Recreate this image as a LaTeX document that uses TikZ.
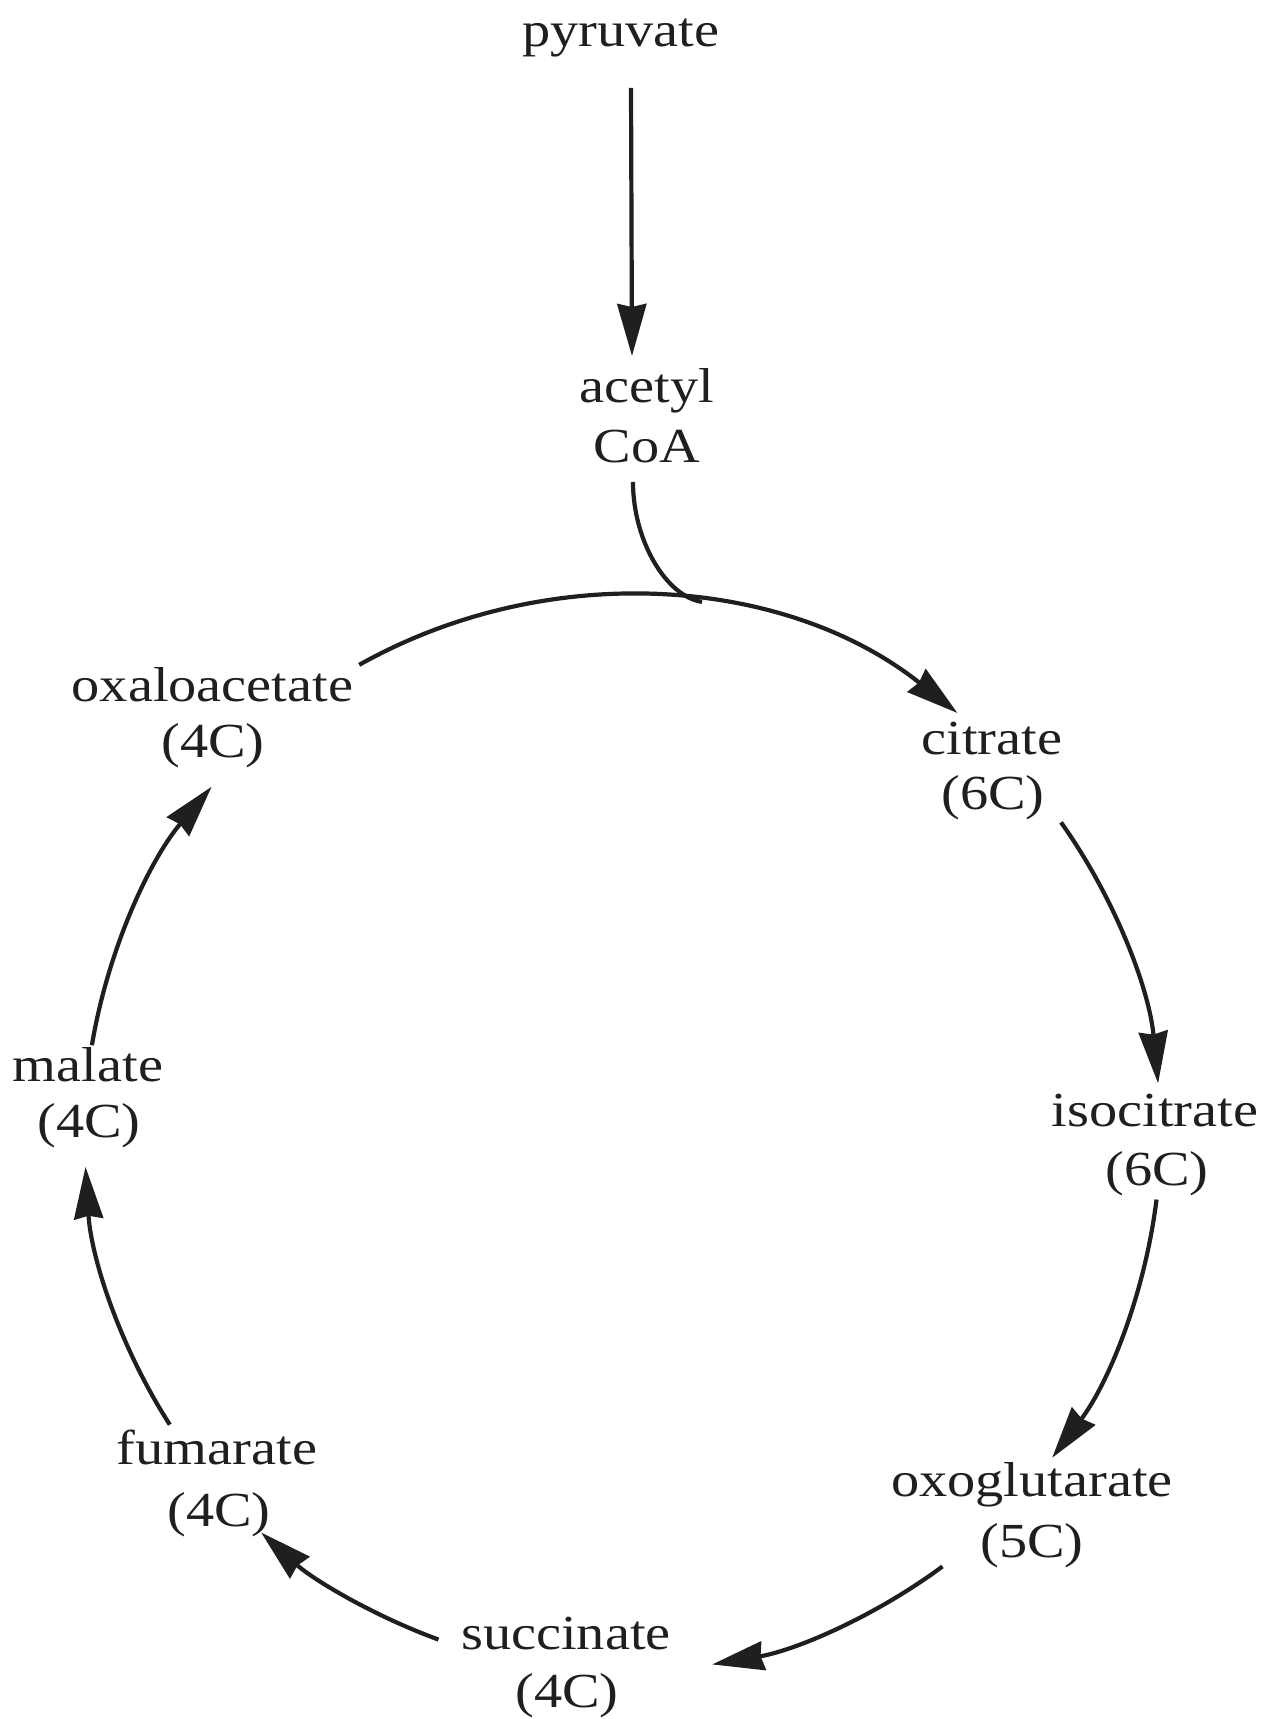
\documentclass[tikz,border=0pt]{standalone}
\usepackage{fontspec}
\setmainfont{Liberation Serif}[FakeStretch=1.15]
\usetikzlibrary{arrows.meta}
\definecolor{ink}{gray}{0.12}
\begin{document}
\begin{tikzpicture}[x=1pt,y=1pt,
  lbl/.style={anchor=base, inner sep=0pt, text=ink, font=\fontsize{49}{58}\selectfont},
  arr/.style={draw=ink, line width=4.2pt, -{Stealth[length=52pt,width=29pt,inset=3pt]}},
  ln/.style={draw=ink, line width=4.2pt}]
\useasboundingbox (0,0) rectangle (1269,1719);
% labels
\node[lbl] (pyr) at (621,1672) {pyruvate};
\node[lbl] (acet) at (647,1316) {acetyl};
\node[lbl] (coa) at (647,1256) {CoA};
\node[lbl] (oxa) at (212.5,1017) {oxaloacetate};
\node[lbl] (oxaC) at (213,961) {(4C)};
\node[lbl] (cit) at (992,964) {citrate};
\node[lbl] (citC) at (993,909) {(6C)};
\node[lbl] (iso) at (1155,592) {isocitrate};
\node[lbl] (isoC) at (1157,533) {(6C)};
\node[lbl] (oxo) at (1032,222) {oxoglutarate};
\node[lbl] (oxoC) at (1032,161) {(5C)};
\node[lbl] (suc) at (566,69) {succinate};
\node[lbl] (sucC) at (567,12) {(4C)};
\node[lbl] (fum) at (217,254) {fumarate};
\node[lbl] (fumC) at (219,192) {(4C)};
\node[lbl] (mal) at (88,637) {malate};
\node[lbl] (malC) at (89,581) {(4C)};
% geometry
\coordinate (O) at (622.5,585);
\coordinate (pyrEnd) at (631,1631);
\coordinate (coaTop) at (632,1363);
\coordinate (coaBot) at (633,1237);
\coordinate (join) at (702,1117.1);
% connectors
\draw[arr] (pyrEnd) -- (coaTop);
\draw[ln] (coaBot) .. controls (633,1178) and (666.4,1122.4) .. (join);
\draw[arr] ([shift={(119.3:538)}]O) arc[start angle=119.3,end angle=51.5,radius=538];
\draw[arr] ([shift={(35.4:538)}]O) arc[start angle=35.4,end angle=5.4,radius=538];
\draw[arr] ([shift={(-7:538)}]O) arc[start angle=-7,end angle=-37,radius=538];
\draw[arr] ([shift={(-53.5:538)}]O) arc[start angle=-53.5,end angle=-80.4,radius=538];
\draw[arr] ([shift={(-110:538)}]O) arc[start angle=-110,end angle=-132.2,radius=538];
\draw[arr] ([shift={(-147.3:538)}]O) arc[start angle=-147.3,end angle=-176.5,radius=538];
\draw[arr] ([shift={(170.5:538)}]O) arc[start angle=170.5,end angle=139.8,radius=538];
\end{tikzpicture}
\end{document}
